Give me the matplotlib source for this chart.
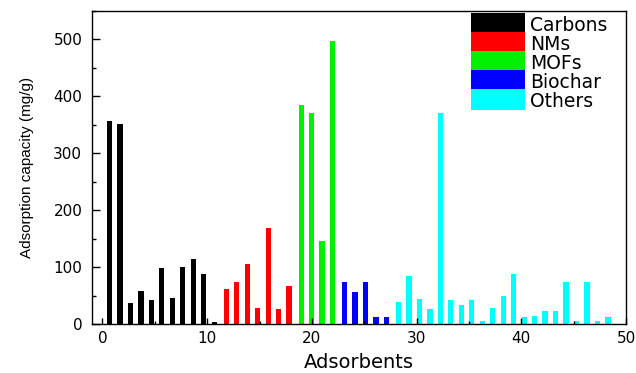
import numpy as np
import matplotlib
matplotlib.use('Agg')
import matplotlib.pyplot as plt
from matplotlib.ticker import MultipleLocator
from matplotlib.patches import Rectangle
from matplotlib.container import BarContainer
from matplotlib.legend_handler import HandlerPatch, update_from_first_child

# Adsorption capacity (mg/g) per adsorbent, grouped by class
carbons = [357, 351, 37, 58, 42, 98, 45, 101, 115, 88, 3]
nms = [61, 73, 105, 28, 169, 26, 66]
mofs = [385, 371, 145, 497]
biochar = [74, 56, 73, 12, 13]
others = [39, 84, 44, 26, 371, 42, 33, 42, 6, 28, 50, 88, 12, 14, 22, 22, 73, 5, 74, 6, 13]

groups = ['Carbons', 'NMs', 'MOFs', 'Biochar', 'Others']
colors = ['#000000', '#ff0000', '#00f000', '#0000ff', '#00ffff']
series = [carbons, nms, mofs, biochar, others]

plt.rcParams['font.family'] = ['DejaVu Sans']

fig = plt.figure(figsize=(6.36, 3.73), dpi=100)
ax = fig.add_axes([0.1447, 0.1314, 0.8396, 0.8391])

# bars sit one unit apart, with a small extra gap between classes
start = 0.67
for k, (name, col, vals) in enumerate(zip(groups, colors, series)):
    x = start + np.arange(len(vals))
    ax.bar(x, vals, width=0.5, color=col, label=name, linewidth=0)
    start = x[-1] + 1.15

ax.set_xlim(-1, 50)
ax.set_ylim(0, 550)
ax.xaxis.set_major_locator(MultipleLocator(10))
ax.xaxis.set_minor_locator(MultipleLocator(5))
ax.yaxis.set_major_locator(MultipleLocator(100))
ax.yaxis.set_minor_locator(MultipleLocator(50))
ax.tick_params(axis='x', which='major', direction='in', length=4.5, width=1, pad=5, labelsize=11)
ax.tick_params(axis='x', which='minor', direction='in', length=2.2, width=1)
ax.tick_params(axis='y', which='major', direction='in', length=6, width=1, pad=7, labelsize=11)
ax.tick_params(axis='y', which='minor', direction='in', length=3, width=1)
for s in ax.spines.values():
    s.set_linewidth(1.0)

ax.set_xlabel('Adsorbents', fontsize=14, labelpad=5)
ax.set_ylabel('Adsorption capacity (mg/g)', fontsize=11, family='Liberation Sans', labelpad=14)


# legend blocks fill the whole row so they touch each other
def tall_rect(legend, orig_handle, xdescent, ydescent, width, height, fontsize):
    return Rectangle((-xdescent, -ydescent - 1.0), width, height + ydescent + 2.0)


ax.legend(loc='upper left', bbox_to_anchor=(0.71, 0.984), frameon=False, fontsize=13.5,
          borderpad=0, borderaxespad=0, handlelength=2.85, handleheight=1.0,
          labelspacing=0, handletextpad=0.27,
          handler_map={BarContainer: HandlerPatch(patch_func=tall_rect,
                                                  update_func=update_from_first_child)})

plt.savefig('out.png', dpi=100)
